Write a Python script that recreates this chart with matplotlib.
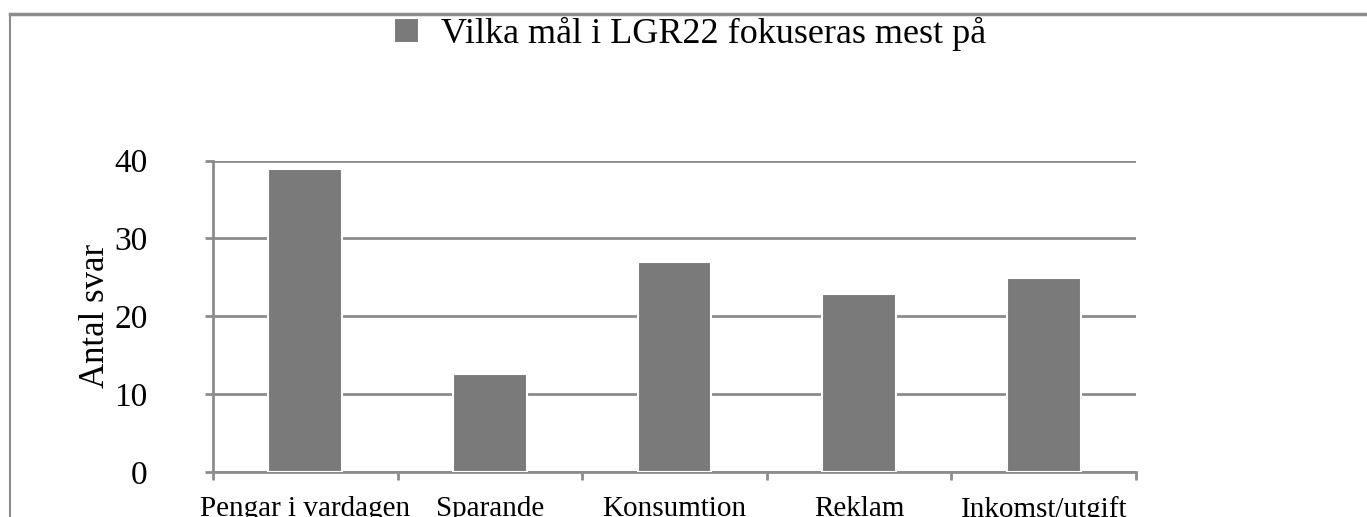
import matplotlib
matplotlib.use('Agg')
import matplotlib.pyplot as plt
from matplotlib.lines import Line2D
import numpy as np

categories = ['Pengar i vardagen', 'Sparande', 'Konsumtion', 'Reklam', 'Inkomst/utgift']
values = [38.9, 12.6, 27, 22.9, 24.9]
series_name = 'Vilka mål i LGR22 fokuseras mest på'
yticks = [0, 10, 20, 30, 40]

plt.rcParams['font.family'] = ['Liberation Serif', 'DejaVu Serif']

W, H = 1367, 517
fig = plt.figure(figsize=(W / 100, H / 100), dpi=100)
ax = fig.add_axes([213 / W, 1 - 472 / H, (1136 - 213) / W, (472 - 160.5) / H])

grey = '#8c8c8c'
bar_col = '#7a7a7a'

x = np.arange(len(categories))
ax.bar(x, values, width=0.4, color=bar_col, edgecolor='white', linewidth=1.5,
       zorder=3, label=series_name)

ax.set_xlim(-0.5, len(categories) - 0.5)
ax.set_ylim(0, 40)
ax.set_yticks(yticks)
ax.yaxis.grid(True, color=grey, linewidth=2)
ax.set_axisbelow(True)

# category labels centred, tick marks on the category boundaries
ax.set_xticks(x)
ax.set_xticklabels(categories, fontsize=21)
ax.tick_params(axis='x', which='major', length=0, pad=17)
ax.set_xticks(np.arange(-0.5, len(categories)), minor=True)
ax.tick_params(axis='x', which='minor', length=6, width=2, color=grey, direction='out')
ax.tick_params(axis='y', length=6, width=2, color=grey, labelsize=24, pad=41)

for s in ['top', 'right']:
    ax.spines[s].set_visible(False)
for s in ['left', 'bottom']:
    ax.spines[s].set_color(grey)
    ax.spines[s].set_linewidth(2)

ax.set_ylabel('Antal svar', fontsize=25)
ax.yaxis.set_label_coords((112 - 213) / (1136 - 213), 0.5)

fig.legend(loc='center', bbox_to_anchor=(690 / W, 1 - 34 / H), frameon=False,
           fontsize=26, handlelength=0.7, handleheight=0.7, handletextpad=0.6)

# outer frame lines (top and left) like the source document
fig.add_artist(Line2D([9.5 / W, 1], [1 - 13.5 / H, 1 - 13.5 / H], color=grey, linewidth=2.5))
fig.add_artist(Line2D([9.5 / W, 9.5 / W], [0, 1 - 13.5 / H], color=grey, linewidth=1.5))

fig.savefig('out.png', dpi=100)
